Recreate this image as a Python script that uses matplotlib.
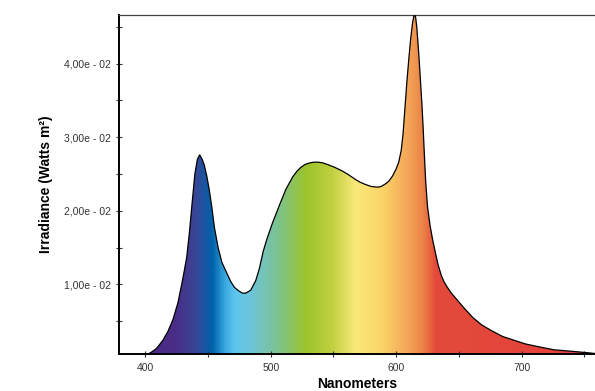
import matplotlib
matplotlib.use("Agg")
import matplotlib.pyplot as plt
import numpy as np
from matplotlib.colors import LinearSegmentedColormap
from matplotlib.ticker import FuncFormatter, MultipleLocator

plt.rcParams['font.family'] = ['Liberation Sans', 'DejaVu Sans']

# spectrum (nm, W/m2)
wavelength = [401, 405, 409, 414, 418, 422, 426, 429, 431, 433, 435, 437, 439.5,
              441.5, 443.3, 445.3, 447, 449, 451, 453, 455, 458, 461, 465, 468,
              471, 474.5, 477.6, 480, 484, 488, 491, 494, 497, 501.5, 507, 512,
              517.5, 521, 524, 527.5, 531, 534.5, 538, 541.5, 545, 551, 557, 561,
              564.5, 568, 571, 575, 580, 585, 588, 591, 594, 597, 600, 602, 604,
              605.5, 607, 608.5, 610, 611.5, 613, 614, 614.7, 615.5, 616.5, 617.5,
              618.5, 619.5, 620.5, 621.5, 622.5, 623.5, 625, 627, 629, 631, 633.5,
              636, 638, 640, 642, 644, 648, 654, 661, 668, 676, 685, 694, 703,
              714, 726, 740, 753, 758.5]
irradiance = [0.0004, 0.0008, 0.0013, 0.0024, 0.0036, 0.0052, 0.0075, 0.0100,
              0.0118, 0.0137, 0.0168, 0.0205, 0.0250, 0.0270, 0.0276, 0.0270,
              0.0262, 0.0247, 0.0228, 0.0205, 0.0178, 0.0150, 0.0130, 0.0115,
              0.0104, 0.0096, 0.0091, 0.0088, 0.0088, 0.0092, 0.0105, 0.0122,
              0.0145, 0.0162, 0.0184, 0.0208, 0.0229, 0.0246, 0.0254, 0.0259,
              0.0263, 0.0265, 0.0266, 0.0266, 0.0265, 0.0263, 0.0259, 0.0254,
              0.0250, 0.0246, 0.0242, 0.0239, 0.0236, 0.0233, 0.0232, 0.0233,
              0.0236, 0.0240, 0.0247, 0.0257, 0.0266, 0.0282, 0.0305, 0.0340,
              0.0375, 0.0405, 0.0433, 0.0455, 0.0464, 0.0466, 0.0463, 0.0448,
              0.0425, 0.0400, 0.0372, 0.0345, 0.0312, 0.0275, 0.0240, 0.0205,
              0.0180, 0.0161, 0.0145, 0.0126, 0.0112, 0.0104, 0.0098, 0.0093,
              0.0088, 0.0080, 0.0068, 0.0055, 0.0045, 0.0037, 0.0029, 0.0024,
              0.0019, 0.0015, 0.0011, 0.0009, 0.0007, 0.0006]

# colour stops of the spectrum fill
stop_nm = [379, 407, 423, 439, 453, 463, 471, 487, 505, 528, 549, 568, 589, 608, 621, 632, 759]
stop_col = ["#4b2a86", "#4b2a86", "#4a2d88", "#3a4596", "#0062aa", "#3aa8e0",
            "#5ec6f0", "#70c4d0", "#7cc290", "#9cc42c", "#c0d040", "#fbe97a",
            "#fad468", "#f4aa5a", "#ec8448", "#e44a3a", "#e3403a"]

xmin, xmax = 379, 758.5
ymin, ymax = 0.0006, 0.0466

fig = plt.figure(figsize=(5.95, 3.91), dpi=100)
ax = fig.add_axes([0.2, 0.0959, 0.8, 0.8657])

pos = [(v - xmin) / (xmax - xmin) for v in stop_nm]
pos[-1] = 1.0
cmap = LinearSegmentedColormap.from_list("spec", list(zip(pos, stop_col)))
grad = np.linspace(0, 1, 600).reshape(1, -1)
img = ax.imshow(grad, cmap=cmap, aspect="auto", extent=[xmin, xmax, ymin, ymax],
                origin="lower", zorder=1)
poly = ax.fill_between(wavelength, irradiance, ymin, facecolor="none", edgecolor="none")
img.set_clip_path(poly.get_paths()[0], transform=ax.transData)
ax.plot(wavelength, irradiance, color="black", lw=0.9, zorder=3)

ax.set_xlim(xmin, xmax)
ax.set_ylim(ymin, ymax)

ax.xaxis.set_major_locator(MultipleLocator(100))
ax.xaxis.set_minor_locator(MultipleLocator(50))
ax.set_yticks([0.01, 0.02, 0.03, 0.04])
ax.set_yticks([0.005, 0.015, 0.025, 0.035, 0.045], minor=True)
ax.yaxis.set_major_formatter(FuncFormatter(
    lambda v, p: f"{v * 100:.2f}".replace(".", ",") + "e - 02"))

ax.tick_params(which="both", direction="inout", length=5, width=0.8,
               labelsize=7.5, labelcolor="#333333", color="#333333")
ax.tick_params(axis="y", pad=3)
ax.tick_params(axis="x", pad=4)

ax.spines["right"].set_visible(False)
ax.spines["left"].set_linewidth(1.4)
ax.spines["bottom"].set_linewidth(1.4)
ax.spines["top"].set_linewidth(0.9)
ax.spines["top"].set_color("#444444")

ax.set_xlabel("Nanometers", fontsize=10, fontweight="bold", labelpad=3)
ax.set_ylabel("Irradiance (Watts m²)", fontsize=10, fontweight="bold", labelpad=8)

fig.savefig("out.png", dpi=100)
